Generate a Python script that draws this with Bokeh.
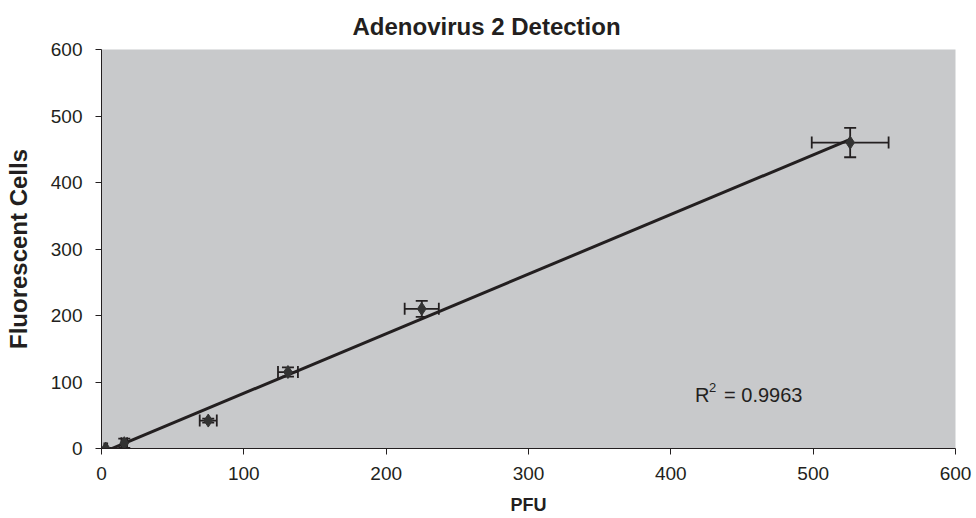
import numpy as np
from bokeh.plotting import figure
from bokeh.models import ColumnDataSource, Whisker, TeeHead, FixedTicker, Range1d
from bokeh.core.properties import value
from bokeh.embed import file_html
from bokeh.resources import INLINE

# Data
pfu = [3, 16, 75, 131, 225, 526]
cells = [0, 8, 42, 115, 210, 460]
pfu_err = [1, 2, 6, 7, 12, 27]
cells_err = [1, 7, 3, 7, 12, 22]
x_ticks = [0, 100, 200, 300, 400, 500, 600]
y_ticks = [0, 100, 200, 300, 400, 500, 600]
title_text = "Adenovirus 2 Detection"
r2_text = "0.9963"

FONT = "Liberation Sans"
INK = "#231f20"

p = figure(
    output_backend="svg", toolbar_location=None,
    frame_width=854, frame_height=399,
    min_border_left=101, min_border_right=21, min_border_top=49, min_border_bottom=70,
    x_range=Range1d(0, 600), y_range=Range1d(0, 600),
    background_fill_color="#c8c9cb", border_fill_color="white",
    title=title_text,
)
p.outline_line_color = None
p.grid.visible = False

p.title.align = "left"
p.title.offset = 251
p.title.text_font = FONT
p.title.text_font_size = "24px"
p.title.text_font_style = "bold"
p.title.text_color = INK
p.title.standoff = 20

for ax in (p.xaxis[0], p.yaxis[0]):
    ax.axis_line_color = INK
    ax.major_tick_line_color = INK
    ax.minor_tick_line_color = None
    ax.major_tick_in = 0
    ax.major_tick_out = 6
    ax.major_label_text_font = FONT
    ax.major_label_text_font_size = "19px"
    ax.major_label_text_color = INK
    ax.axis_label_text_font = FONT
    ax.axis_label_text_font_style = "bold"
    ax.axis_label_text_color = INK

p.xaxis.ticker = FixedTicker(ticks=x_ticks)
p.yaxis.ticker = FixedTicker(ticks=y_ticks)
p.xaxis.axis_label = "PFU"
p.xaxis.axis_label_text_font_size = "18px"
p.xaxis.axis_label_standoff = 12
p.xaxis.major_label_standoff = 12
p.yaxis.axis_label = "Fluorescent Cells"
p.yaxis.axis_label_text_font_size = "24px"
p.yaxis.axis_label_standoff = 16
p.yaxis.major_label_standoff = 13

# linear trend line fitted to the data
slope, intercept = np.polyfit(pfu, cells, 1)
xs = np.array([min(pfu), max(pfu)])
p.line(xs, slope * xs + intercept, line_color=INK, line_width=3)

src = ColumnDataSource(dict(
    x=pfu, y=cells,
    xl=[a - b for a, b in zip(pfu, pfu_err)], xu=[a + b for a, b in zip(pfu, pfu_err)],
    yl=[a - b for a, b in zip(cells, cells_err)], yu=[a + b for a, b in zip(cells, cells_err)],
))

head = dict(size=12, line_color=INK, line_width=1.8)
p.add_layout(Whisker(source=src, base="x", lower="yl", upper="yu", dimension="height",
                     line_color=INK, line_width=1.8,
                     lower_head=TeeHead(**head), upper_head=TeeHead(**head)))
p.add_layout(Whisker(source=src, base="y", lower="xl", upper="xu", dimension="width",
                     line_color=INK, line_width=1.8,
                     lower_head=TeeHead(**head), upper_head=TeeHead(**head)))

p.scatter("x", "y", source=src, marker="diamond", size=13, fill_color="#333333", line_color="#333333")

# R^2 annotation
p.text(x=[417], y=[80], text=["R"], text_font=value(FONT), text_font_size="20px",
       text_color=INK, text_baseline="alphabetic")
p.text(x=[417], y=[80], text=["2"], x_offset=14, y_offset=-8, text_font=value(FONT),
       text_font_size="13px", text_color=INK, text_baseline="alphabetic")
p.text(x=[417], y=[80], text=["=  " + r2_text], x_offset=29, text_font=value(FONT),
       text_font_size="20px", text_color=INK, text_baseline="alphabetic")

open("out.html", "w").write(file_html(p, INLINE))
